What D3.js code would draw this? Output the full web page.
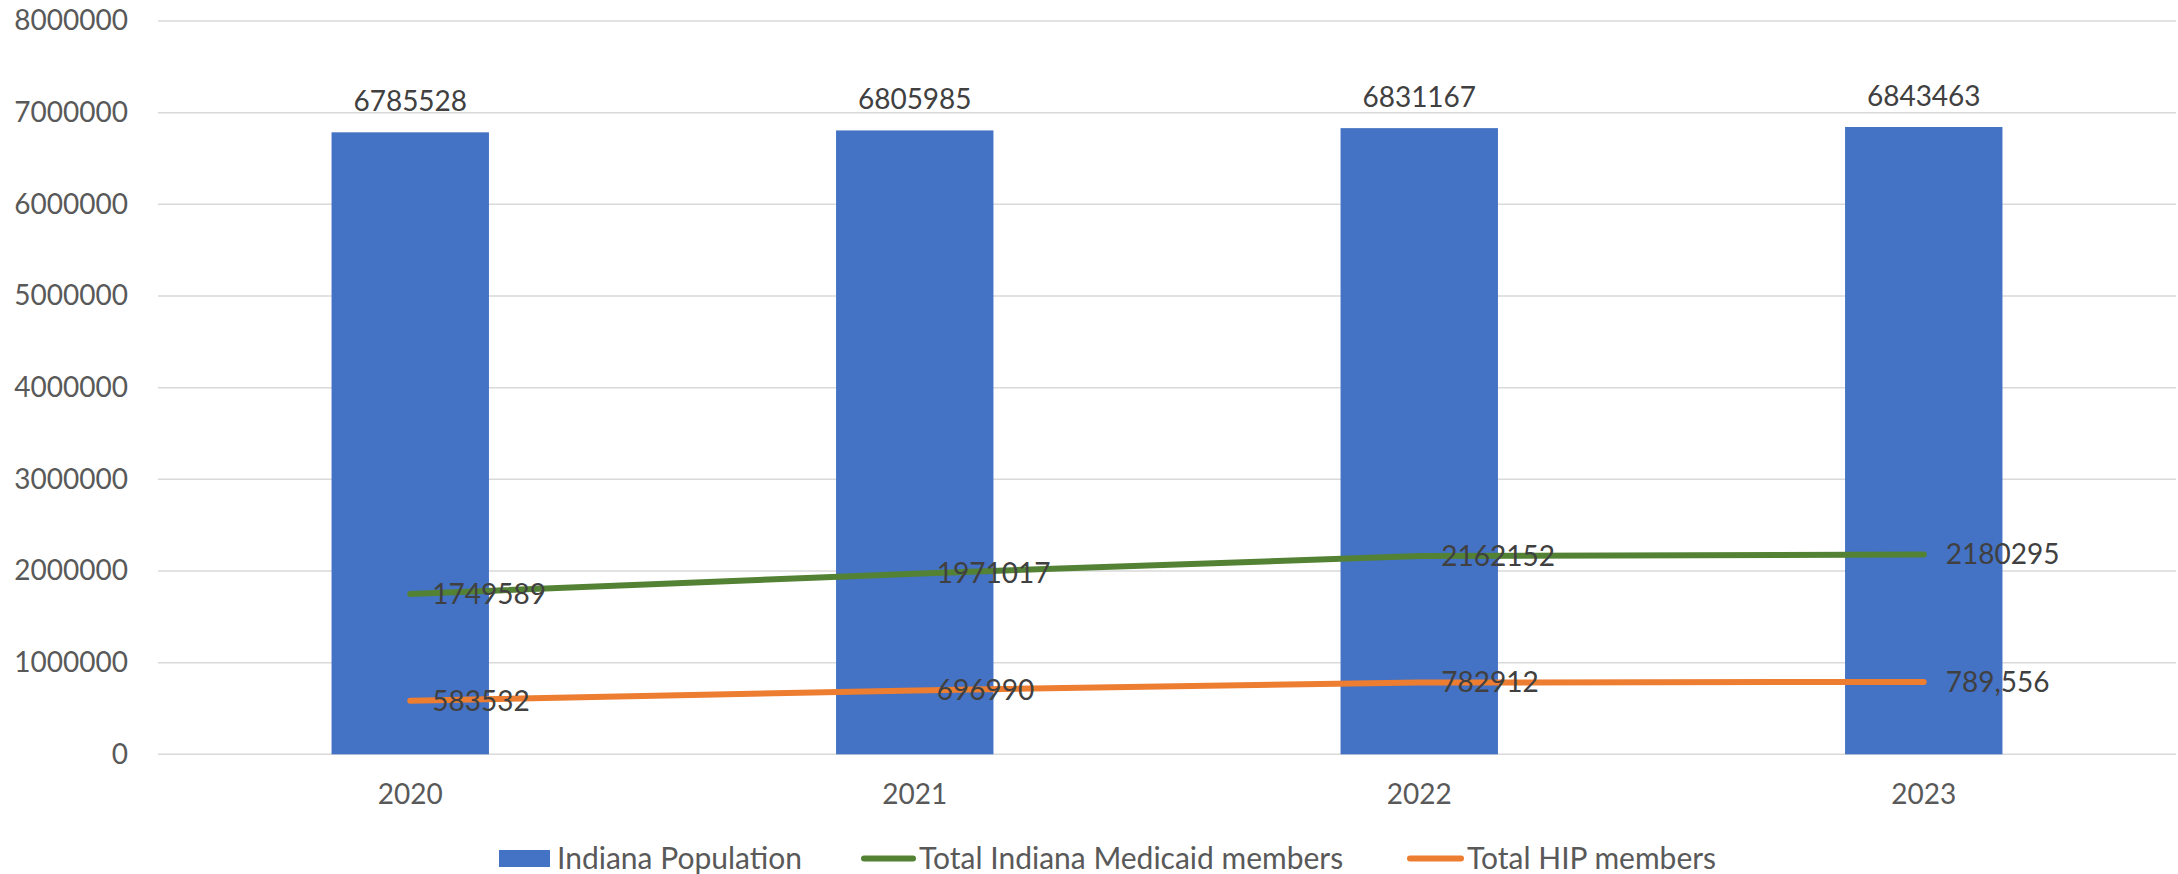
<!DOCTYPE html>
<html>
<head>
<meta charset="utf-8">
<script src="https://cdn.jsdelivr.net/npm/d3@7"></script>
<style>
  html, body { margin: 0; padding: 0; background: #fff; }
  svg { display: block; font-family: Lato, "Open Sans", sans-serif; }
</style>
</head>
<body>
<svg id="chart" width="2178" height="874"></svg>
<script>
const years = ["2020", "2021", "2022", "2023"];
const population = [6785528, 6805985, 6831167, 6843463];
const medicaid = [1749589, 1971017, 2162152, 2180295];
const hip = [583532, 696990, 782912, 789556];
const populationLabels = ["6785528", "6805985", "6831167", "6843463"];
const medicaidLabels = ["1749589", "1971017", "2162152", "2180295"];
const hipLabels = ["583532", "696990", "782912", "789,556"];
const yTicks = [0, 1000000, 2000000, 3000000, 4000000, 5000000, 6000000, 7000000, 8000000];
const seriesNames = ["Indiana Population", "Total Indiana Medicaid members", "Total HIP members"];

(function () {
const colors = { bar: "#4472C4", medicaid: "#548235", hip: "#ED7D31" };
const svg = d3.select("#chart");
const pLeft = 158, pRight = 2176, pTop = 21, pBottom = 754.3;

const x = d3.scaleBand().domain(years).range([pLeft, pRight]).paddingInner(0.688).paddingOuter(0.344);
const y = d3.scaleLinear().domain([0, 8000000]).range([pBottom, pTop]);
const xc = d => x(d) + x.bandwidth() / 2;

// gridlines
svg.append("g").selectAll("line").data(yTicks).join("line")
  .attr("x1", pLeft).attr("x2", pRight)
  .attr("y1", d => y(d)).attr("y2", d => y(d))
  .attr("stroke", "#D9D9D9").attr("stroke-width", 1.5);

// y axis labels
const yAxis = d3.axisLeft(y).tickValues(yTicks).tickSize(0).tickPadding(0).tickFormat(d3.format("d"));
const ya = svg.append("g").attr("transform", `translate(128,0)`).call(yAxis);
ya.select(".domain").remove();
ya.selectAll("text").attr("font-size", 28).attr("fill", "#595959").attr("font-family", "Lato, 'Open Sans', sans-serif");

// x axis labels
const xAxis = d3.axisBottom(x).tickSize(0).tickPadding(0);
const xa = svg.append("g").attr("transform", `translate(0,${pBottom + 30})`).call(xAxis);
xa.select(".domain").remove();
xa.selectAll("text").attr("font-size", 28).attr("fill", "#595959").attr("font-family", "Lato, 'Open Sans', sans-serif");

// bars
svg.append("g").selectAll("rect").data(years).join("rect")
  .attr("x", d => x(d)).attr("width", x.bandwidth())
  .attr("y", (d, i) => y(population[i])).attr("height", (d, i) => y(0) - y(population[i]))
  .attr("fill", colors.bar);

// bar labels
svg.append("g").selectAll("text").data(years).join("text")
  .attr("x", d => xc(d)).attr("y", (d, i) => y(population[i]) - 21)
  .attr("text-anchor", "middle").attr("font-size", 28).attr("fill", "#404040")
  .text((d, i) => populationLabels[i]);

// lines
const line = d3.line().x((d, i) => xc(years[i])).y(d => y(d));
[[medicaid, colors.medicaid], [hip, colors.hip]].forEach(([vals, c]) => {
  svg.append("path").datum(vals).attr("d", line)
    .attr("fill", "none").attr("stroke", c).attr("stroke-width", 6)
    .attr("stroke-linecap", "round").attr("stroke-linejoin", "round");
});

// line labels
[[medicaid, medicaidLabels], [hip, hipLabels]].forEach(([vals, labs]) => {
  svg.append("g").selectAll("text").data(vals).join("text")
    .attr("x", (d, i) => xc(years[i]) + 22).attr("y", d => y(d))
    .attr("dy", "0.35em").attr("font-size", 28).attr("fill", "#404040")
    .text((d, i) => labs[i]);
});

// legend
const lg = svg.append("g").attr("font-size", 30).attr("fill", "#595959");
lg.append("rect").attr("x", 499).attr("y", 850).attr("width", 51).attr("height", 17).attr("fill", colors.bar);
lg.append("text").attr("x", 557).attr("y", 858.5).attr("dy", "0.35em").text(seriesNames[0]);
lg.append("line").attr("x1", 864).attr("x2", 913).attr("y1", 858.5).attr("y2", 858.5)
  .attr("stroke", colors.medicaid).attr("stroke-width", 6).attr("stroke-linecap", "round");
lg.append("text").attr("x", 919).attr("y", 858.5).attr("dy", "0.35em").text(seriesNames[1]);
lg.append("line").attr("x1", 1410).attr("x2", 1461).attr("y1", 858.5).attr("y2", 858.5)
  .attr("stroke", colors.hip).attr("stroke-width", 6).attr("stroke-linecap", "round");
lg.append("text").attr("x", 1467).attr("y", 858.5).attr("dy", "0.35em").text(seriesNames[2]);
})();
</script>
</body>
</html>
